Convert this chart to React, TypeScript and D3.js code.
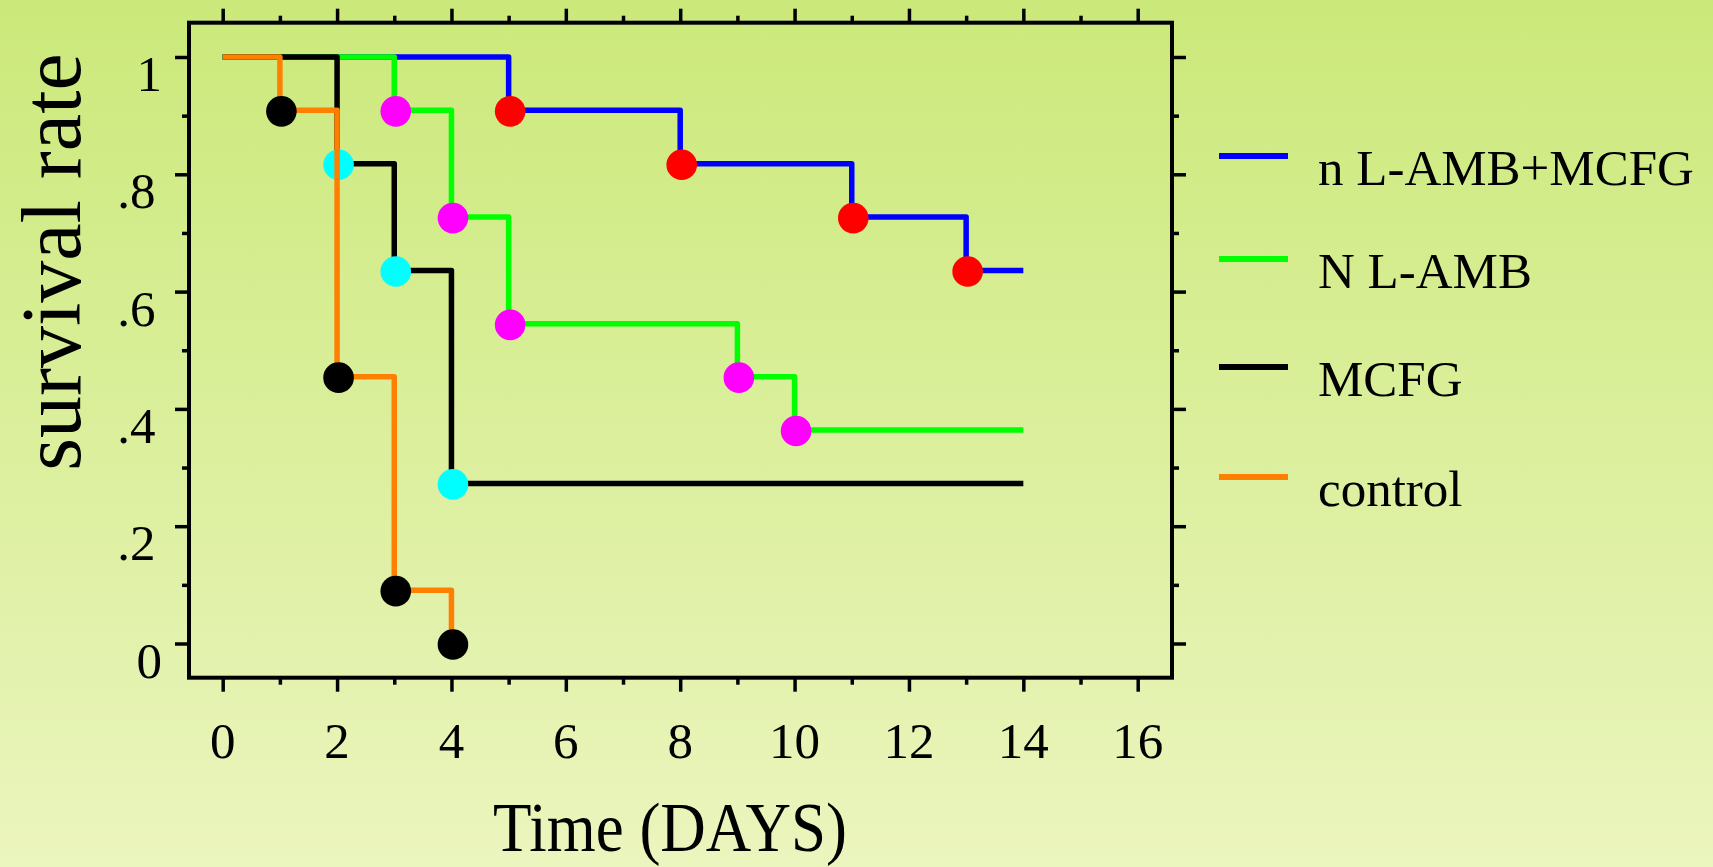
import React, { useEffect, useRef } from "react";
import * as d3 from "d3";

// Kaplan-Meier curves: day of each step and survival after it
const comboDays = [0, 5, 8, 11, 13, 14];
const comboRate = [1, 0.909, 0.818, 0.727, 0.636, 0.636];
const lambDays = [0, 3, 4, 5, 9, 10, 14];
const lambRate = [1, 0.909, 0.727, 0.545, 0.455, 0.364, 0.364];
const mcfgDays = [0, 2, 3, 4, 14];
const mcfgRate = [1, 0.818, 0.636, 0.273, 0.273];
const controlDays = [0, 1, 2, 3, 4];
const controlRate = [1, 0.909, 0.455, 0.091, 0];

const seriesNames = ["n L-AMB+MCFG", "N L-AMB", "MCFG", "control"];
const lineColors = ["#0000ff", "#00ff00", "#000000", "#ff8000"];
const dotColors = ["#ff0000", "#ff00ff", "#00ffff", "#000000"];

const xTicks = [0, 2, 4, 6, 8, 10, 12, 14, 16];
const xMinorTicks = [1, 3, 5, 7, 9, 11, 13, 15];
const yTicks = [0, 0.2, 0.4, 0.6, 0.8, 1];
const yTickLabels = ["0", ".2", ".4", ".6", ".8", "1"];
const yMinorTicks = [0.1, 0.3, 0.5, 0.7, 0.9];

const W = 1713;
const H = 867;
const FONT = "'Liberation Serif', 'Times New Roman', serif";

const App = () => {
  const ref = useRef<SVGSVGElement>(null);

  useEffect(() => {
    const svg = d3.select(ref.current);
    svg.selectAll("*").remove();

    const left = 189, right = 1172, top = 22.7, bottom = 677.7;

    const x = d3.scaleLinear().domain([0, 16]).range([222.7, 1137.7]);
    const y = d3.scaleLinear().domain([0, 1]).range([643.5, 57]);

    const grad = svg.append("defs").append("linearGradient")
      .attr("id", "bg").attr("x1", 0).attr("y1", 0).attr("x2", 0).attr("y2", 1);
    grad.append("stop").attr("offset", "0%").attr("stop-color", "#cbe97a");
    grad.append("stop").attr("offset", "100%").attr("stop-color", "#ebf5be");

    svg.append("rect").attr("width", W).attr("height", H).attr("fill", "url(#bg)");

    // ticks on all four sides, pointing outward
    const tickAxis = (axis: any, tr: string) => {
      const g = svg.append("g").attr("transform", tr).call(axis);
      g.select(".domain").remove();
      g.selectAll("text").remove();
      g.selectAll("line").attr("stroke", "#000").attr("stroke-width", 3.5);
    };
    const sides: [any, any, string][] = [
      [d3.axisBottom, x, `translate(0,${bottom})`],
      [d3.axisTop, x, `translate(0,${top})`],
      [d3.axisLeft, y, `translate(${left},0)`],
      [d3.axisRight, y, `translate(${right},0)`],
    ];
    sides.forEach(([mk, sc, tr]) => {
      const major = sc === x ? xTicks : yTicks;
      const minor = sc === x ? xMinorTicks : yMinorTicks;
      tickAxis(mk(sc).tickValues(major).tickSize(14).tickSizeOuter(0), tr);
      tickAxis(mk(sc).tickValues(minor).tickSize(7).tickSizeOuter(0), tr);
    });

    svg.append("rect")
      .attr("x", left).attr("y", top)
      .attr("width", right - left).attr("height", bottom - top)
      .attr("fill", "none").attr("stroke", "#000").attr("stroke-width", 4);

    // tick labels
    svg.append("g").selectAll("text").data(xTicks).enter().append("text")
      .attr("x", d => x(d)).attr("y", 758)
      .attr("text-anchor", "middle")
      .attr("font-family", FONT).attr("font-size", 51)
      .text(d => String(d));

    svg.append("g").selectAll("text").data(yTicks).enter().append("text")
      .attr("x", (d, i) => yTickLabels[i].startsWith(".") ? 155.5 : 162)
      .attr("y", d => y(d) + 34)
      .attr("text-anchor", "end")
      .attr("font-family", FONT).attr("font-size", 51)
      .text((d, i) => yTickLabels[i]);

    // survival curves, drawn so the control curve ends up on top
    const allDays = [comboDays, lambDays, mcfgDays, controlDays];
    const allRates = [comboRate, lambRate, mcfgRate, controlRate];
    const line = d3.line<number[]>()
      .x(d => x(d[0]))
      .y(d => y(d[1]))
      .curve(d3.curveStepAfter);

    allDays.forEach((days, s) => {
      const pts = days.map((d, i) => [d, allRates[s][i]]);
      svg.append("path")
        .attr("d", line(pts))
        .attr("fill", "none")
        .attr("stroke", lineColors[s])
        .attr("stroke-width", 5.5)
        .attr("stroke-linejoin", "round");

      const events = pts.filter((p, i) => i > 0 && p[1] < pts[i - 1][1]);
      svg.append("g").selectAll("circle").data(events).enter().append("circle")
        .attr("cx", d => x(d[0]) + 1.5)
        .attr("cy", d => y(d[1]) + 1)
        .attr("r", 15.3)
        .attr("fill", dotColors[s]);
    });

    // legend
    const legendRows = [156, 259, 367, 477];
    const legend = svg.append("g").selectAll("g").data(seriesNames).enter().append("g")
      .attr("transform", (d, i) => `translate(1219,${legendRows[i]})`);
    legend.append("line")
      .attr("x1", 0).attr("x2", 69)
      .attr("stroke", (d, i) => lineColors[i])
      .attr("stroke-width", 6);
    legend.append("text")
      .attr("x", 99).attr("y", 29)
      .attr("font-family", FONT).attr("font-size", 51)
      .text(d => d);

    // axis titles
    svg.append("text")
      .attr("transform", "translate(670,851) scale(1,1.1)")
      .attr("text-anchor", "middle")
      .attr("font-family", FONT).attr("font-size", 63)
      .text("Time (DAYS)");

    svg.append("text")
      .attr("transform", "translate(80,262) rotate(-90)")
      .attr("text-anchor", "middle")
      .attr("font-family", FONT).attr("font-size", 84)
      .text("survival rate");
  }, []);

  return (
    <svg
      ref={ref}
      width={W}
      height={H}
      style={{ position: "absolute", left: 0, top: 0, display: "block" }}
    ></svg>
  );
};

export default App;
